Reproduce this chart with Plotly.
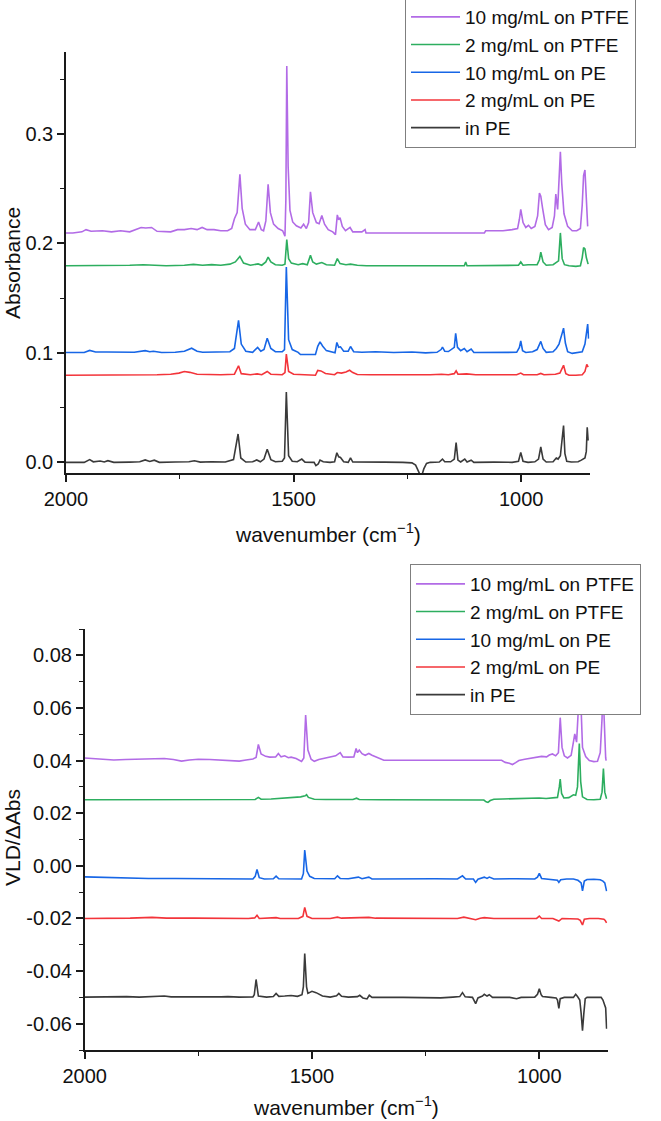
import plotly.graph_objects as go

# ---------------- series names / colours ----------------
series_names = ["10 mg/mL on PTFE", "2 mg/mL on PTFE", "10 mg/mL on PE", "2 mg/mL on PE", "in PE"]
series_colors = ["#B26BE6", "#2DAE5F", "#1766E6", "#F3343A", "#3A3A3A"]

# ---------------- top panel : Absorbance ----------------
abs_ptfe10_wn = [2000, 1985, 1965, 1956, 1945, 1920, 1900, 1880, 1860, 1845, 1835, 1825, 1812, 1800, 1785, 1770, 1755, 1740, 1725, 1712, 1701, 1690, 1675, 1660, 1645, 1636, 1630, 1624, 1618, 1613, 1606, 1596, 1584, 1577, 1571, 1566, 1561, 1556, 1551, 1544, 1534, 1524, 1519, 1517, 1515, 1512, 1508, 1502, 1494, 1484, 1478, 1472, 1467, 1463, 1458, 1450, 1444, 1438, 1432, 1424, 1414, 1408, 1404, 1401, 1398, 1393, 1386, 1376, 1370, 1350, 1343, 1341, 1081, 1078, 1060, 1040, 1020, 1008, 1004, 1001, 996, 990, 984, 978, 970, 964, 960, 957, 953, 947, 940, 932, 927, 924, 920, 916, 914, 911, 906, 898, 888, 878, 870, 866, 863, 860, 857, 854]
abs_ptfe10_val = [0.2095, 0.2095, 0.2105, 0.2125, 0.211, 0.2115, 0.2105, 0.2115, 0.2105, 0.2125, 0.2145, 0.214, 0.2145, 0.211, 0.2105, 0.2105, 0.2125, 0.2125, 0.2135, 0.2125, 0.2145, 0.2125, 0.2125, 0.2115, 0.2115, 0.2135, 0.2225, 0.228, 0.263, 0.232, 0.2175, 0.2125, 0.2125, 0.2195, 0.2125, 0.2115, 0.2205, 0.254, 0.228, 0.2175, 0.2135, 0.2115, 0.2065, 0.24, 0.362, 0.27, 0.23, 0.2195, 0.216, 0.214, 0.2175, 0.2135, 0.219, 0.247, 0.228, 0.219, 0.218, 0.2255, 0.2175, 0.2125, 0.2105, 0.208, 0.226, 0.2215, 0.2235, 0.2155, 0.2115, 0.2145, 0.2105, 0.2105, 0.2125, 0.2095, 0.2095, 0.2115, 0.2115, 0.2115, 0.2125, 0.2135, 0.222, 0.231, 0.219, 0.2145, 0.2165, 0.2135, 0.2155, 0.225, 0.246, 0.243, 0.232, 0.217, 0.2125, 0.2145, 0.225, 0.245, 0.231, 0.26, 0.2837, 0.255, 0.227, 0.2155, 0.2115, 0.2115, 0.2135, 0.235, 0.262, 0.267, 0.245, 0.2155]

abs_ptfe2_wn = [2000, 1960, 1940, 1900, 1860, 1830, 1810, 1780, 1740, 1720, 1700, 1680, 1660, 1640, 1628, 1618, 1610, 1595, 1578, 1570, 1561, 1556, 1550, 1540, 1525, 1519, 1515, 1511, 1505, 1490, 1480, 1470, 1463, 1458, 1450, 1438, 1428, 1410, 1404, 1398, 1385, 1375, 1360, 1340, 1125, 1122, 1119, 1020, 1006, 1001, 996, 985, 965, 960, 957, 952, 945, 930, 923, 918, 914, 910, 905, 895, 880, 870, 866, 863, 860, 857, 853]
abs_ptfe2_val = [0.1795, 0.1795, 0.18, 0.1795, 0.18, 0.1805, 0.18, 0.1795, 0.18, 0.1808, 0.18, 0.1806, 0.18, 0.181, 0.183, 0.188, 0.182, 0.18, 0.1812, 0.18, 0.183, 0.1875, 0.183, 0.1805, 0.18, 0.181, 0.2035, 0.186, 0.182, 0.1805, 0.1815, 0.1805, 0.189, 0.183, 0.181, 0.1825, 0.1805, 0.18, 0.186, 0.1815, 0.1805, 0.181, 0.18, 0.1795, 0.1795, 0.183, 0.1795, 0.1795, 0.18, 0.183, 0.18, 0.1805, 0.1805, 0.185, 0.192, 0.183, 0.18, 0.1805, 0.1825, 0.184, 0.2095, 0.186, 0.1805, 0.1795, 0.179, 0.1795, 0.187, 0.196, 0.195, 0.187, 0.181]

abs_pe10_wn = [2000, 1960, 1948, 1935, 1910, 1880, 1850, 1826, 1816, 1808, 1790, 1760, 1740, 1724, 1712, 1700, 1680, 1660, 1640, 1630, 1621, 1615, 1605, 1590, 1579, 1572, 1565, 1558, 1550, 1540, 1525, 1520, 1516, 1511, 1503, 1490, 1485, 1452, 1447, 1442, 1436, 1428, 1415, 1409, 1405, 1401, 1397, 1390, 1380, 1375, 1368, 1350, 1320, 1280, 1240, 1210, 1185, 1176, 1173, 1168, 1160, 1147, 1144, 1140, 1133, 1125, 1119, 1110, 1104, 1080, 1040, 1010, 1004, 1001, 997, 990, 975, 965, 957, 952, 945, 930, 923, 917, 910, 907, 903, 898, 888, 875, 866, 860, 856, 854, 852]
abs_pe10_val = [0.1003, 0.1003, 0.1022, 0.1008, 0.1008, 0.1005, 0.1005, 0.102, 0.101, 0.1015, 0.1003, 0.1005, 0.1015, 0.1042, 0.1015, 0.1005, 0.1008, 0.1005, 0.101, 0.104, 0.1296, 0.108, 0.1015, 0.1005, 0.105, 0.1015, 0.103, 0.1134, 0.104, 0.101, 0.101, 0.103, 0.1784, 0.112, 0.103, 0.1005, 0.0985, 0.0985, 0.106, 0.11, 0.106, 0.102, 0.1005, 0.1, 0.1095, 0.105, 0.1055, 0.1015, 0.1015, 0.1058, 0.101, 0.1005, 0.101, 0.1003, 0.1008, 0.1, 0.1005, 0.103, 0.1052, 0.1015, 0.1012, 0.105, 0.1179, 0.105, 0.102, 0.104, 0.101, 0.1035, 0.1003, 0.1005, 0.1003, 0.1005, 0.105, 0.111, 0.102, 0.1003, 0.101, 0.103, 0.1104, 0.104, 0.1005, 0.101, 0.104, 0.108, 0.118, 0.1226, 0.109, 0.101, 0.0995, 0.1, 0.101, 0.108, 0.12, 0.1262, 0.113]

abs_pe2_wn = [2000, 1960, 1920, 1880, 1852, 1800, 1770, 1752, 1740, 1728, 1712, 1690, 1660, 1630, 1621, 1615, 1595, 1580, 1570, 1558, 1550, 1525, 1519, 1516, 1511, 1500, 1480, 1452, 1447, 1440, 1430, 1410, 1404, 1395, 1385, 1377, 1370, 1360, 1330, 1280, 1240, 1200, 1175, 1160, 1147, 1143, 1139, 1120, 1100, 1050, 1010, 1001, 995, 965, 957, 950, 925, 915, 907, 902, 895, 880, 866, 860, 856, 853]
abs_pe2_val = [0.0795, 0.0795, 0.08, 0.0795, 0.08, 0.08, 0.0805, 0.0815, 0.0829, 0.0822, 0.0805, 0.08, 0.08, 0.0805, 0.0882, 0.081, 0.08, 0.0808, 0.08, 0.083, 0.0805, 0.08, 0.082, 0.0988, 0.083, 0.0805, 0.08, 0.0795, 0.084, 0.0835, 0.0812, 0.08, 0.082, 0.0815, 0.0825, 0.0841, 0.082, 0.0802, 0.08, 0.0798, 0.0803, 0.08, 0.0805, 0.08, 0.081, 0.0835, 0.0805, 0.0808, 0.08, 0.08, 0.08, 0.0815, 0.08, 0.08, 0.0812, 0.08, 0.0805, 0.0815, 0.0886, 0.081, 0.0795, 0.0795, 0.08, 0.083, 0.0895, 0.087]

abs_inpe_wn = [2000, 1960, 1948, 1940, 1925, 1916, 1908, 1895, 1860, 1838, 1826, 1816, 1806, 1795, 1760, 1730, 1718, 1705, 1680, 1650, 1632, 1622, 1616, 1605, 1590, 1581, 1573, 1565, 1558, 1550, 1540, 1525, 1520, 1516, 1511, 1503, 1492, 1482, 1475, 1455, 1451, 1446, 1442, 1435, 1420, 1410, 1405, 1401, 1397, 1390, 1380, 1375, 1370, 1340, 1300, 1260, 1240, 1232, 1226, 1222, 1218, 1214, 1208, 1200, 1180, 1173, 1168, 1155, 1147, 1143, 1139, 1133, 1124, 1119, 1110, 1104, 1060, 1020, 1006, 1001, 996, 985, 970, 962, 957, 952, 945, 930, 923, 919, 914, 909, 907, 904, 900, 890, 875, 868, 860, 857, 855, 853]
abs_inpe_val = [0.0, 0.0, 0.0025, 0.0005, 0.0012, 0.0003, 0.0015, 0.0, 0.0002, 0.0005, 0.0022, 0.0008, 0.002, 0.0, 0.0003, 0.0005, 0.0015, 0.0002, 0.0005, 0.0003, 0.0025, 0.0259, 0.004, 0.0003, 0.0005, 0.0022, 0.0005, 0.003, 0.0119, 0.0025, 0.0005, 0.001, 0.004, 0.0643, 0.006, 0.001, 0.0005, 0.003, 0.0002, 0.0, -0.003, -0.0015, 0.002, 0.0005, 0.0, 0.0005, 0.0088, 0.005, 0.0045, 0.0005, 0.0, 0.004, 0.0003, 0.0, 0.0002, 0.0, -0.0005, -0.0025, -0.008, -0.0115, -0.0115, -0.006, -0.001, 0.0, 0.0003, 0.003, 0.0005, 0.0005, 0.003, 0.018, 0.002, 0.0003, 0.003, 0.0003, 0.002, 0.0, 0.0002, 0.0, 0.001, 0.0091, 0.001, 0.0, 0.0005, 0.003, 0.014, 0.003, 0.0003, 0.0005, 0.004, 0.003, 0.006, 0.025, 0.0335, 0.008, 0.001, 0.0003, 0.0005, 0.002, 0.004, 0.01, 0.032, 0.02]

# ---------------- bottom panel : VLD / dAbs ----------------
vld_ptfe10_wn = [2000, 1980, 1960, 1936, 1910, 1880, 1850, 1825, 1805, 1787, 1770, 1750, 1725, 1704, 1690, 1676, 1660, 1645, 1630, 1623, 1618, 1612, 1602, 1593, 1580, 1574, 1568, 1560, 1552, 1546, 1535, 1523, 1518, 1514, 1509, 1502, 1495, 1485, 1472, 1460, 1448, 1438, 1432, 1420, 1408, 1403, 1400, 1396, 1390, 1383, 1375, 1368, 1360, 1350, 1342, 1083, 1075, 1066, 1059, 1052, 1045, 1032, 1018, 1005, 995, 984, 978, 971, 964, 958, 954, 950, 945, 938, 930, 925, 922, 918, 914, 912, 909, 905, 898, 890, 880, 872, 866, 862, 860, 857, 854, 853]
vld_ptfe10_val = [0.041, 0.0408, 0.0404, 0.0402, 0.0404, 0.0406, 0.0406, 0.0408, 0.0404, 0.0398, 0.0402, 0.0405, 0.0404, 0.0402, 0.04, 0.0397, 0.0398, 0.0402, 0.0406, 0.0412, 0.0461, 0.0425, 0.0416, 0.0413, 0.0414, 0.0427, 0.0414, 0.0418, 0.0411, 0.0413, 0.0408, 0.0397, 0.041, 0.0573, 0.044, 0.0405, 0.0397, 0.0404, 0.0408, 0.0414, 0.0418, 0.043, 0.0414, 0.0413, 0.0414, 0.0446, 0.043, 0.044, 0.0426, 0.042, 0.0427, 0.042, 0.0414, 0.0406, 0.0401, 0.0401, 0.0393, 0.039, 0.0385, 0.0392, 0.04, 0.0405, 0.0409, 0.0414, 0.0416, 0.0414, 0.0421, 0.0425, 0.0418, 0.043, 0.0563, 0.045, 0.0418, 0.041, 0.042, 0.047, 0.0501, 0.047, 0.06, 0.079, 0.06, 0.045, 0.0415, 0.04, 0.0396, 0.0397, 0.043, 0.056, 0.068, 0.05, 0.041, 0.04]

vld_ptfe2_wn = [2000, 1950, 1900, 1850, 1800, 1750, 1700, 1650, 1625, 1618, 1612, 1590, 1570, 1555, 1540, 1525, 1515, 1512, 1508, 1495, 1470, 1440, 1410, 1402, 1396, 1350, 1250, 1150, 1122, 1117, 1113, 1108, 1100, 1080, 1050, 1020, 1000, 985, 970, 960, 956, 954, 951, 946, 935, 925, 920, 916, 912, 909, 905, 895, 880, 866, 862, 859, 856, 853, 852]
vld_ptfe2_val = [0.0251, 0.0251, 0.0252, 0.0251, 0.0252, 0.0251, 0.0252, 0.0251, 0.0252, 0.026, 0.0253, 0.0254, 0.0256, 0.026, 0.0259, 0.0262, 0.0266, 0.027, 0.026, 0.0253, 0.0252, 0.0251, 0.0252, 0.0257, 0.0252, 0.0251, 0.025, 0.025, 0.025, 0.0243, 0.0241, 0.0248, 0.0253, 0.0254, 0.0256, 0.0258, 0.0258, 0.0256, 0.0257, 0.026, 0.03, 0.033, 0.0275, 0.0258, 0.0259, 0.027, 0.0268, 0.03, 0.0465, 0.032, 0.0262, 0.0252, 0.0251, 0.0253, 0.028, 0.037, 0.028, 0.0258, 0.0255]

vld_pe10_wn = [2000, 1980, 1950, 1908, 1860, 1800, 1750, 1700, 1650, 1630, 1625, 1621, 1616, 1605, 1585, 1579, 1573, 1540, 1523, 1519, 1516, 1511, 1505, 1495, 1470, 1450, 1444, 1438, 1420, 1412, 1398, 1390, 1375, 1368, 1320, 1280, 1230, 1180, 1169, 1162, 1145, 1140, 1135, 1121, 1115, 1110, 1100, 1050, 1010, 1004, 1000, 995, 985, 968, 960, 957, 953, 940, 925, 915, 908, 905, 901, 895, 880, 866, 860, 856, 852]
vld_pe10_val = [-0.0042, -0.0043, -0.0045, -0.0047, -0.0048, -0.0048, -0.0049, -0.0049, -0.005, -0.005, -0.004, -0.0014, -0.0045, -0.005, -0.0049, -0.0039, -0.0049, -0.0049, -0.005, -0.003, 0.006, -0.002, -0.004, -0.0048, -0.005, -0.0049, -0.0038, -0.0048, -0.0049, -0.0046, -0.0043, -0.0049, -0.0043, -0.005, -0.0049, -0.005, -0.0049, -0.005, -0.0038, -0.005, -0.005, -0.0063, -0.0051, -0.0043, -0.0048, -0.0043, -0.005, -0.0049, -0.005, -0.0043, -0.0029, -0.0048, -0.005, -0.0052, -0.0055, -0.0063, -0.0053, -0.005, -0.005, -0.0055, -0.0065, -0.0095, -0.0058, -0.0052, -0.0051, -0.0053, -0.0058, -0.0065, -0.0096]

vld_pe2_wn = [2000, 1950, 1900, 1852, 1820, 1760, 1700, 1640, 1626, 1621, 1616, 1590, 1579, 1570, 1530, 1520, 1516, 1511, 1500, 1460, 1444, 1435, 1400, 1375, 1360, 1300, 1240, 1180, 1166, 1155, 1140, 1130, 1121, 1100, 1050, 1006, 1000, 995, 970, 957, 950, 915, 910, 905, 901, 890, 870, 858, 855, 852]
vld_pe2_val = [-0.02, -0.02, -0.0199, -0.0196, -0.0199, -0.0199, -0.02, -0.02, -0.0198, -0.0188, -0.02, -0.0199, -0.0197, -0.02, -0.02, -0.0192, -0.0158, -0.0192, -0.02, -0.02, -0.0195, -0.0199, -0.0198, -0.0196, -0.0199, -0.02, -0.0199, -0.02, -0.0195, -0.02, -0.0205, -0.0199, -0.0197, -0.02, -0.02, -0.02, -0.0191, -0.02, -0.02, -0.021, -0.02, -0.0202, -0.0207, -0.0225, -0.0203, -0.02, -0.02, -0.0203, -0.0208, -0.0217]

vld_inpe_wn = [2000, 1960, 1930, 1908, 1880, 1840, 1825, 1810, 1760, 1718, 1700, 1685, 1660, 1630, 1627, 1623, 1618, 1600, 1585, 1579, 1573, 1560, 1546, 1532, 1522, 1519, 1516, 1512, 1509, 1500, 1491, 1477, 1460, 1446, 1441, 1435, 1420, 1400, 1395, 1388, 1379, 1374, 1368, 1300, 1250, 1217, 1190, 1175, 1169, 1163, 1147, 1144, 1140, 1135, 1125, 1121, 1115, 1110, 1103, 1065, 1050, 1040, 1010, 1004, 1000, 996, 993, 975, 963, 960, 957, 954, 945, 925, 920, 916, 911, 908, 905, 902, 899, 895, 875, 864, 860, 857, 854, 852]
vld_inpe_val = [-0.0499, -0.0498, -0.0499, -0.0497, -0.0499, -0.0498, -0.0495, -0.0498, -0.0499, -0.0497, -0.0498, -0.0497, -0.0499, -0.0498, -0.049, -0.0432, -0.0495, -0.0499, -0.0497, -0.0485, -0.0496, -0.0495, -0.0493, -0.0496, -0.049, -0.046, -0.0333, -0.046, -0.0485, -0.0477, -0.0482, -0.0495, -0.0499, -0.0494, -0.0485, -0.0496, -0.0499, -0.0497, -0.0492, -0.0502, -0.0506, -0.0492, -0.05, -0.05, -0.05, -0.0502, -0.0499, -0.0497, -0.0482, -0.0498, -0.05, -0.051, -0.0524, -0.0502, -0.0495, -0.0488, -0.0495, -0.049, -0.05, -0.05, -0.0505, -0.05, -0.0499, -0.0488, -0.0467, -0.049, -0.0497, -0.05, -0.0502, -0.051, -0.0542, -0.0505, -0.05, -0.05, -0.0488, -0.0497, -0.051, -0.056, -0.0627, -0.056, -0.0505, -0.05, -0.05, -0.05, -0.051, -0.0525, -0.054, -0.0619]

top_x = [abs_ptfe10_wn, abs_ptfe2_wn, abs_pe10_wn, abs_pe2_wn, abs_inpe_wn]
top_y = [abs_ptfe10_val, abs_ptfe2_val, abs_pe10_val, abs_pe2_val, abs_inpe_val]
bot_x = [vld_ptfe10_wn, vld_ptfe2_wn, vld_pe10_wn, vld_pe2_wn, vld_inpe_wn]
bot_y = [vld_ptfe10_val, vld_ptfe2_val, vld_pe10_val, vld_pe2_val, vld_inpe_val]

# tick labels
x_tickvals = [2000, 1500, 1000]
x_ticktext = ["2000", "1500", "1000"]
top_tickvals = [0.0, 0.1, 0.2, 0.3]
top_ticktext = ["0.0", "0.1", "0.2", "0.3"]
bot_tickvals = [-0.06, -0.04, -0.02, 0.00, 0.02, 0.04, 0.06, 0.08]
bot_ticktext = ["-0.06", "-0.04", "-0.02", "0.00", "0.02", "0.04", "0.06", "0.08"]

FONT = "Liberation Sans, Arial, sans-serif"
W, H = 661, 1121

fig = go.Figure()
for i in range(5):
    fig.add_trace(go.Scatter(x=top_x[i], y=top_y[i], mode="lines", name=series_names[i],
                             line=dict(color=series_colors[i], width=1.6),
                             xaxis="x", yaxis="y", legend="legend"))
for i in range(5):
    fig.add_trace(go.Scatter(x=bot_x[i], y=bot_y[i], mode="lines", name=series_names[i],
                             line=dict(color=series_colors[i], width=1.6),
                             xaxis="x2", yaxis="y2", legend="legend2"))

axis_common = dict(showline=True, linecolor="#1a1a1a", linewidth=1.5, ticks="outside",
                   ticklen=7, tickwidth=1.5, tickcolor="#1a1a1a", showgrid=False,
                   zeroline=False, automargin=False,
                   tickfont=dict(family=FONT, size=20, color="#111"),
                   fixedrange=True)
minor_x = dict(ticks="outside", ticklen=4, tickwidth=1.2, tickcolor="#1a1a1a",
               tickmode="linear", tick0=0, dtick=250)

# pixel layout of the two plotting areas
top_l, top_r, top_t, top_b = 66, 589.5, 51.7, 473.3
bot_l, bot_r, bot_t, bot_b = 84.7, 607.5, 629, 1050

legend_common = dict(xanchor="left", yanchor="top", bgcolor="white",
                     bordercolor="#7f7f7f", borderwidth=1,
                     font=dict(family=FONT, size=19, color="#111"),
                     tracegroupgap=0, itemwidth=49)

fig.update_layout(
    width=W, height=H,
    margin=dict(l=0, r=0, t=0, b=0, autoexpand=False),
    paper_bgcolor="white", plot_bgcolor="white",
    font=dict(family=FONT, size=20, color="#111"),
    xaxis=dict(axis_common, domain=[top_l / W, top_r / W], anchor="y", range=[2000, 850],
               tickmode="array", tickvals=x_tickvals, ticktext=x_ticktext, minor=minor_x),
    yaxis=dict(axis_common, domain=[1 - top_b / H, 1 - top_t / H], anchor="x", range=[-0.01, 0.375],
               tickmode="array", tickvals=top_tickvals, ticktext=top_ticktext,
               minor=dict(ticks="outside", ticklen=4, tickwidth=1.2, tickcolor="#1a1a1a",
                          tickmode="linear", tick0=0, dtick=0.05)),
    xaxis2=dict(axis_common, domain=[bot_l / W, bot_r / W], anchor="y2", range=[2000, 850],
                tickmode="array", tickvals=x_tickvals, ticktext=x_ticktext, minor=minor_x),
    yaxis2=dict(axis_common, domain=[1 - bot_b / H, 1 - bot_t / H], anchor="x2", range=[-0.07, 0.09],
                tickmode="array", tickvals=bot_tickvals, ticktext=bot_ticktext,
                minor=dict(ticks="outside", ticklen=4, tickwidth=1.2, tickcolor="#1a1a1a",
                           tickmode="linear", tick0=0, dtick=0.01)),
    legend=dict(legend_common, x=405 / W, y=1 + 3 / H),
    legend2=dict(legend_common, x=410 / W, y=1 - 564 / H),
    showlegend=True,
)

ann_font = dict(family=FONT, size=21, color="#111")
fig.add_annotation(text="wavenumber (cm<sup>−1</sup>)", xref="paper", yref="paper",
                   x=(top_l + top_r) / 2 / W, y=1 - 533 / H, showarrow=False,
                   xanchor="center", yanchor="middle", font=ann_font)
fig.add_annotation(text="wavenumber (cm<sup>−1</sup>)", xref="paper", yref="paper",
                   x=(bot_l + bot_r) / 2 / W, y=1 - 1106 / H, showarrow=False,
                   xanchor="center", yanchor="middle", font=ann_font)
fig.add_annotation(text="Absorbance", xref="paper", yref="paper", textangle=-90,
                   x=12 / W, y=1 - 263 / H, showarrow=False,
                   xanchor="center", yanchor="middle", font=ann_font)
fig.add_annotation(text="VLD/ΔAbs", xref="paper", yref="paper", textangle=-90,
                   x=12 / W, y=1 - 838 / H, showarrow=False,
                   xanchor="center", yanchor="middle", font=ann_font)

# remove the browser's default 8px page margin so the figure sits at (0, 0); hide the modebar
fig.write_html("out.html", config={"displayModeBar": False},
               post_script="document.body.style.margin='0px';")
